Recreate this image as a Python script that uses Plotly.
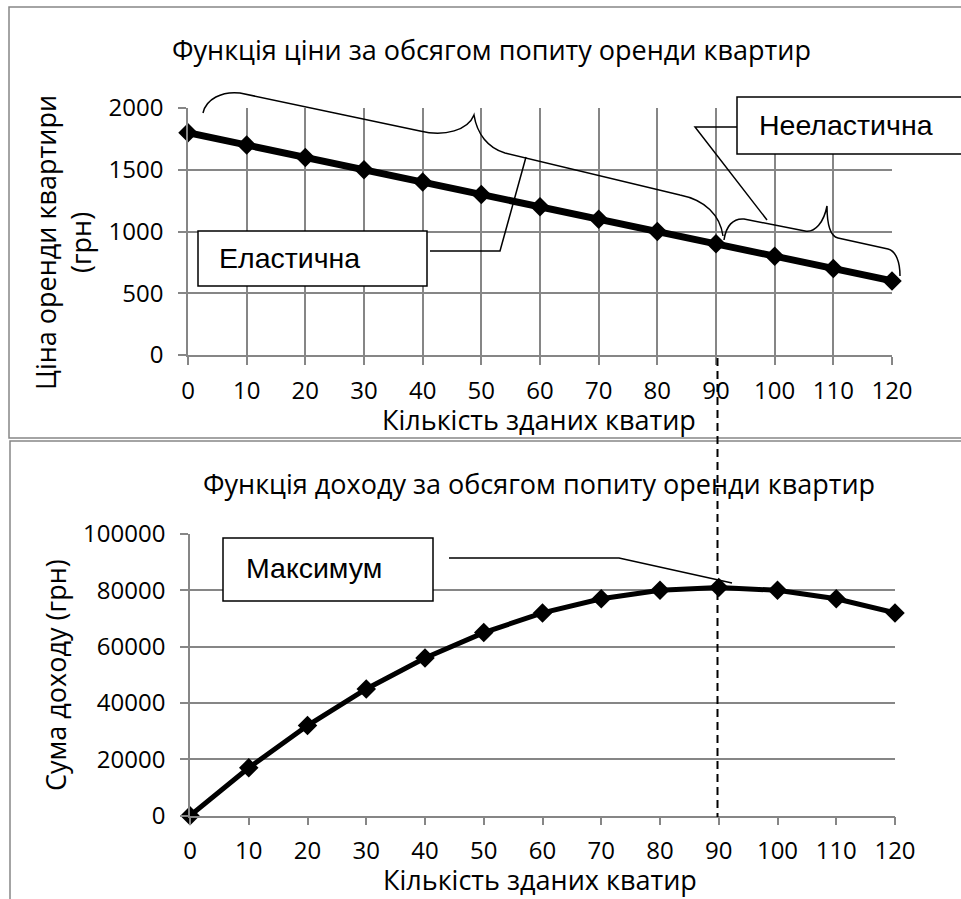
import plotly.graph_objects as go

W, H = 961, 899

# ---- data ----
quantity = [0, 10, 20, 30, 40, 50, 60, 70, 80, 90, 100, 110, 120]
price = [1800, 1700, 1600, 1500, 1400, 1300, 1200, 1100, 1000, 900, 800, 700, 600]
revenue = [0, 17000, 32000, 45000, 56000, 65000, 72000, 77000, 80000, 81000, 80000, 77000, 72000]

x_ticks = quantity
price_ticks = [0, 500, 1000, 1500, 2000]
revenue_ticks = [0, 20000, 40000, 60000, 80000, 100000]

title_top = "Функція ціни за обсягом попиту оренди квартир"
title_bottom = "Функція доходу за обсягом попиту оренди квартир"
x_title = "Кількість зданих кватир"
y_title_top = "Ціна оренди квартири<br>(грн)"
y_title_bottom = "Сума доходу (грн)"
label_elastic = "Еластична"
label_inelastic = "Нееластична"
label_max = "Максимум"

GRID = "#868686"
FONT = "Open Sans"
BOXFONT = "Liberation Sans"


def px(x):
    return x / W


def py(y):
    return 1 - y / H


def path(cmds):
    out = []
    for c in cmds:
        if isinstance(c, str):
            out.append(c)
        else:
            out.append(f"{px(c[0]):.5f},{py(c[1]):.5f}")
    return " ".join(out)


fig = go.Figure()
fig.add_trace(go.Scatter(
    x=quantity, y=price, mode="lines+markers", xaxis="x", yaxis="y",
    line=dict(color="black", width=7),
    marker=dict(symbol="diamond", size=15, color="black"),
    cliponaxis=False, showlegend=False, hoverinfo="x+y"))
fig.add_trace(go.Scatter(
    x=quantity, y=revenue, mode="lines+markers", xaxis="x2", yaxis="y2",
    line=dict(color="black", width=5),
    marker=dict(symbol="diamond", size=15, color="black"),
    cliponaxis=False, showlegend=False, hoverinfo="x+y"))

tickfont = dict(family=FONT, size=24, color="black")
axis_common = dict(
    showline=True, linecolor=GRID, linewidth=1.5,
    ticks="outside", ticklen=8, tickcolor=GRID, tickwidth=1.5,
    gridcolor=GRID, gridwidth=1.5, zeroline=False,
    tickfont=tickfont, fixedrange=True, automargin=False,
)

fig.update_layout(
    width=W, height=H, autosize=False,
    margin=dict(l=0, r=0, t=0, b=0, pad=0, autoexpand=False),
    paper_bgcolor="white", plot_bgcolor="white",
    xaxis=dict(domain=[px(188), px(892)], range=[0, 120], tickvals=x_ticks,
               showgrid=True, anchor="y", ticklabelstandoff=5, **axis_common),
    yaxis=dict(domain=[py(355), py(108)], range=[0, 2000], tickvals=price_ticks,
               ticktext=[str(v) for v in price_ticks],
               showgrid=True, anchor="x", ticklabelstandoff=10, **axis_common),
    xaxis2=dict(domain=[px(190), px(895)], range=[0, 120], tickvals=x_ticks,
                showgrid=False, anchor="y2", ticklabelstandoff=5, **axis_common),
    yaxis2=dict(domain=[py(815.7), py(534)], range=[0, 100000], tickvals=revenue_ticks,
                ticktext=[str(v) for v in revenue_ticks],
                showgrid=True, anchor="x2", ticklabelstandoff=10, **axis_common),
)

shapes = []
# panel borders
shapes.append(dict(type="rect", xref="paper", yref="paper",
                   x0=px(9), x1=px(990), y0=py(7), y1=py(438),
                   line=dict(color=GRID, width=1.5), layer="below"))
shapes.append(dict(type="rect", xref="paper", yref="paper",
                   x0=px(10), x1=px(990), y0=py(441), y1=py(930),
                   line=dict(color=GRID, width=1.5), layer="below"))

# braces
brace1 = path(["M", (203, 113), "C", (206, 99), (222, 91), (240, 93),
               "L", (420, 131), "C", (445, 137), (468, 130), (474, 115),
               "C", (477, 134), (488, 148), (505, 153),
               "L", (680, 195), "C", (705, 200), (720, 215), (723, 236)])
brace2 = path(["M", (724, 240), "C", (726, 226), (733, 218), (744, 219),
               "L", (805, 231), "C", (815, 233), (824, 222), (827, 206),
               "C", (827, 222), (829, 236), (838, 238),
               "L", (888, 249), "C", (896, 251), (900, 262), (900, 276)])
for p in (brace1, brace2):
    shapes.append(dict(type="path", xref="paper", yref="paper", path=p,
                       line=dict(color="black", width=1.5), layer="above"))

# callout lines
callouts = [
    [(430, 251), (500, 251), (526, 157)],
    [(737, 127), (695, 127), (767, 220)],
    [(449, 558), (619, 558), (732, 583)],
]
for pts in callouts:
    cmds = ["M", pts[0]] + sum([["L", p] for p in pts[1:]], [])
    shapes.append(dict(type="path", xref="paper", yref="paper", path=path(cmds),
                       line=dict(color="black", width=1.5), layer="above"))

# dashed marker line at maximum
shapes.append(dict(type="line", xref="paper", yref="paper",
                   x0=px(717.5), x1=px(717.5), y0=py(358), y1=py(817),
                   line=dict(color="black", width=2, dash="8px,5px"), layer="above"))

# label boxes
boxes = [
    ((198, 231, 427, 286), label_elastic, 217, 258),
    ((737, 97, 962, 154), label_inelastic, 757, 125),
    ((223, 538, 433, 601), label_max, 244, 568),
]
annotations = []
for (x0, y0, x1, y1), txt, tx, ty in boxes:
    shapes.append(dict(type="rect", xref="paper", yref="paper",
                       x0=px(x0), x1=px(x1), y0=py(y0), y1=py(y1),
                       fillcolor="white", line=dict(color="black", width=1.5),
                       layer="above"))
    annotations.append(dict(text=txt, xref="paper", yref="paper",
                            x=px(tx), y=py(ty), xanchor="left", yanchor="middle",
                            showarrow=False,
                            font=dict(family=BOXFONT, size=28.5, color="black")))

# titles
annotations += [
    dict(text=title_top, x=px(491), y=py(49)),
    dict(text=title_bottom, x=px(539), y=py(484)),
    dict(text=x_title, x=px(539), y=py(419)),
    dict(text=x_title, x=px(540), y=py(879)),
    dict(text=y_title_top, x=px(63), y=py(243), textangle=-90),
    dict(text=y_title_bottom, x=px(55), y=py(675), textangle=-90),
]
for a in annotations[3:]:
    a.update(xref="paper", yref="paper", xanchor="center", yanchor="middle",
             showarrow=False, font=dict(family=FONT, size=27, color="black"))

fig.update_layout(shapes=shapes, annotations=annotations)
fig.write_html("out.html")
